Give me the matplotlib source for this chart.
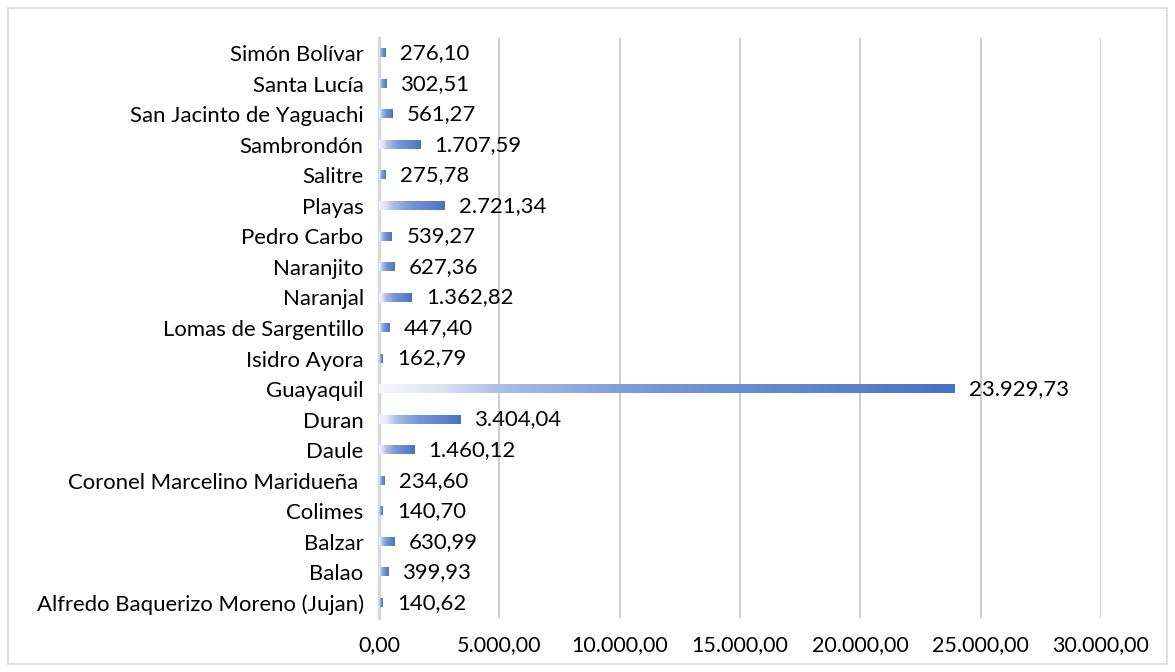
import numpy as np
import matplotlib.pyplot as plt
from matplotlib.colors import LinearSegmentedColormap
from matplotlib.patches import Rectangle

cantones = ['Alfredo Baquerizo Moreno (Jujan)', 'Balao', 'Balzar', 'Colimes',
            'Coronel Marcelino Maridueña ', 'Daule', 'Duran', 'Guayaquil',
            'Isidro Ayora', 'Lomas de Sargentillo', 'Naranjal', 'Naranjito',
            'Pedro Carbo', 'Playas', 'Salitre', 'Sambrondón',
            'San Jacinto de Yaguachi', 'Santa Lucía', 'Simón Bolívar']
valores = [140.62, 399.93, 630.99, 140.70, 234.60, 1460.12, 3404.04, 23929.73,
           162.79, 447.40, 1362.82, 627.36, 539.27, 2721.34, 275.78, 1707.59,
           561.27, 302.51, 276.10]
ticks = [0, 5000, 10000, 15000, 20000, 25000, 30000]


def fmt(v):
    s = f'{v:,.2f}'
    return s.replace(',', 'X').replace('.', ',').replace('X', '.')


plt.rcParams['font.family'] = ['Lato', 'DejaVu Sans']
fs = 15.9

fig = plt.figure(figsize=(11.75, 6.72), dpi=100)
fig.patches.append(Rectangle((8 / 1175, 8 / 672), 1159 / 1175, 656 / 672,
                             transform=fig.transFigure, fill=False,
                             edgecolor='#d9d9d9', linewidth=1.2))
ax = fig.add_axes([379 / 1175, 54 / 672, 722 / 1175, 580 / 672])

# degradado de blanco a azul dentro de cada barra
cmap = LinearSegmentedColormap.from_list('grad', [
    (0.0, '#f4f6fb'), (0.1, '#dde5f4'), (0.21, '#a9bde5'), (0.42, '#809ed8'),
    (0.5, '#7495d3'), (0.62, '#6a8dd0'), (0.83, '#5a80ca'), (1.0, '#4472C4')])
grad = np.linspace(0, 1, 256).reshape(1, -1)
h = 0.27
for i, v in enumerate(valores):
    ax.imshow(grad, extent=[0, v, i - h / 2, i + h / 2], aspect='auto',
              cmap=cmap, interpolation='bicubic', zorder=3)
    ax.text(v + 600, i, fmt(v), va='center', ha='left', fontsize=fs,
            color='#000000', zorder=4)

ax.set_xlim(0, 30000)
ax.set_ylim(-0.5, len(cantones) - 0.5)
ax.set_aspect('auto')
ax.set_yticks(range(len(cantones)))
ax.set_yticklabels(cantones, fontsize=fs)
ax.set_xticks(ticks)
ax.set_xticklabels([fmt(t) for t in ticks], fontsize=15.5)
ax.tick_params(axis='both', length=0)
ax.tick_params(axis='y', pad=11)
ax.tick_params(axis='x', pad=12)
ax.grid(axis='x', color='#c8c8c8', linewidth=1.3, zorder=0)
ax.set_axisbelow(True)
for s in ['top', 'right', 'bottom']:
    ax.spines[s].set_visible(False)
ax.spines['left'].set_color('#d9d9d9')
ax.spines['left'].set_linewidth(2.5)

fig.savefig('out.png', dpi=100)
